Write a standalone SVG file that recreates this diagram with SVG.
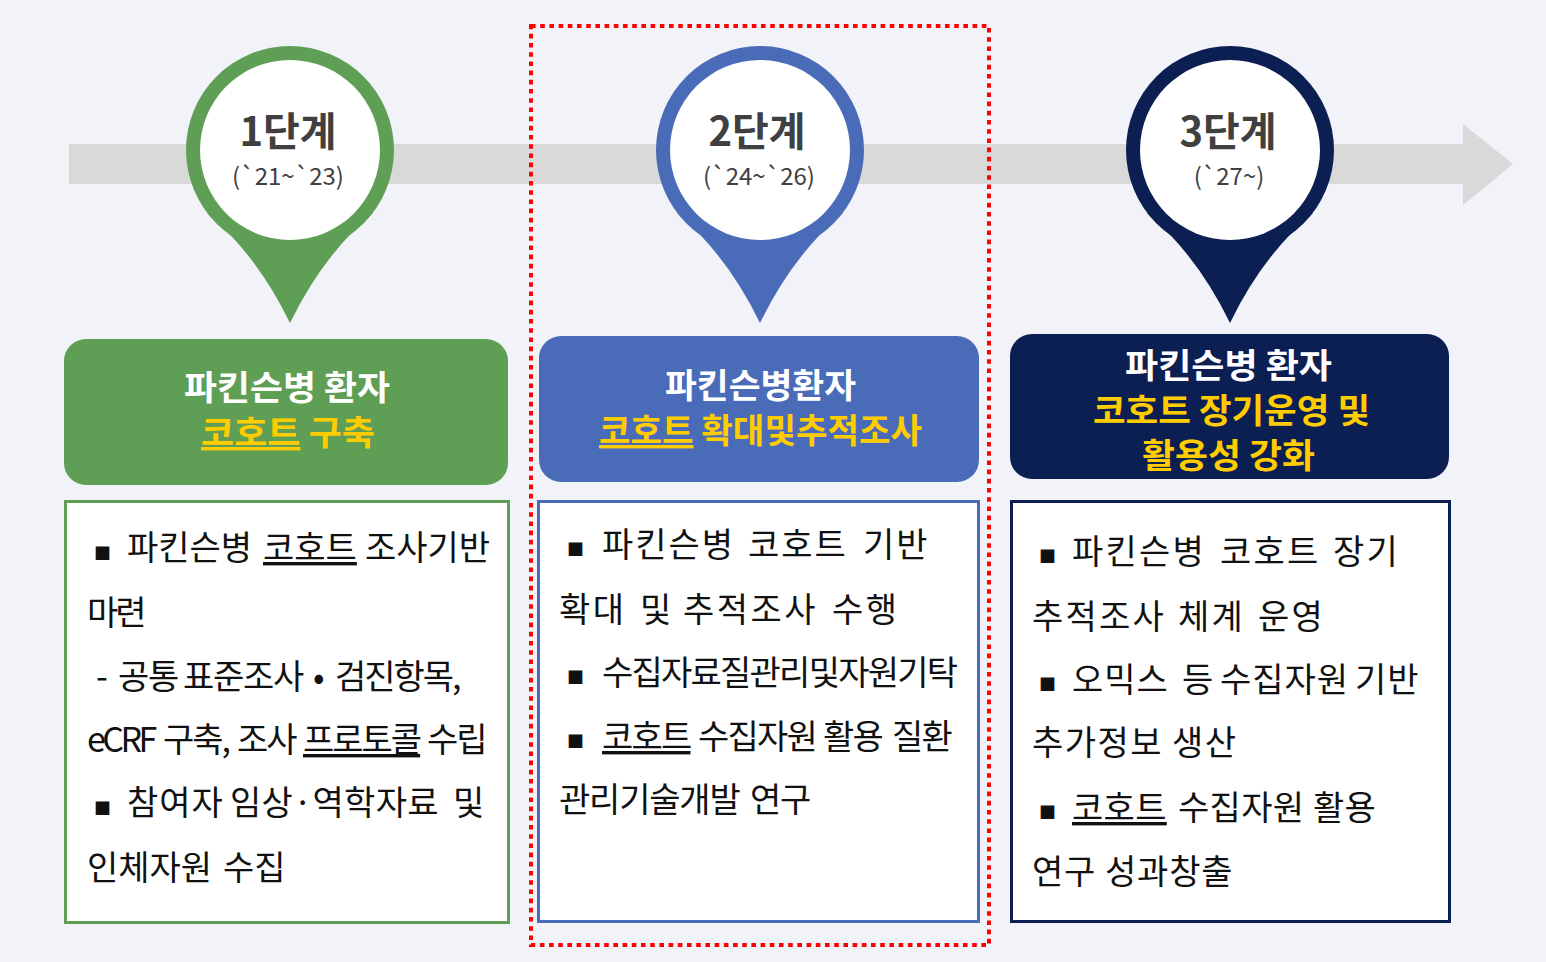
<svg xmlns="http://www.w3.org/2000/svg" width="1546" height="962" viewBox="0 0 1546 962">
<style>
.bg{fill:#f2f3f8}
.kr{font-family:"Noto Sans CJK KR","Noto Sans",sans-serif}
.pinT{font-weight:700;font-size:40px;fill:#404040;text-anchor:middle}
.pinD{font-weight:400;font-size:24px;fill:#404040;text-anchor:middle}
.hw{font-weight:700;font-size:34px;fill:#ffffff}
.hy{font-weight:700;font-size:34px;fill:#ffcc00}
.body{font-weight:400;font-size:34px;fill:#111111}
.bul{font-weight:400;font-size:17px;fill:#111111}
.u{text-decoration:underline}
.green{fill:#5f9e55}
.blue{fill:#4a6cb8}
.navy{fill:#0c1f52}
</style>
<rect class="bg" x="0" y="0" width="1546" height="962"/>

<g id="timeline-arrow">
<path d="M69,144 H1463 V124 L1513,164 L1463,205 V184 H69 Z" fill="#d9d9d9"/>
</g>

<g id="highlight-frame">
<rect x="531" y="26" width="458" height="919" fill="none" stroke="#ff0000" stroke-width="4" stroke-dasharray="4.6 4.6"/>
</g>

<g id="pin1">
<path class="green" d="M207,213 Q257,255 290,323 Q323,255 373,213 Z"/>
<circle class="green" cx="290" cy="150" r="104"/>
<circle cx="290" cy="150" r="90" fill="#ffffff"/>
<text class="kr pinT" x="288" y="146">1단계</text>
<text class="kr pinD" x="288" y="185">(`21~`23)</text>
</g>

<g id="pin2">
<path class="blue" d="M677,213 Q727,255 760,323 Q793,255 843,213 Z"/>
<circle class="blue" cx="760" cy="150" r="104"/>
<circle cx="760" cy="150" r="90" fill="#ffffff"/>
<text class="kr pinT" x="757" y="146">2단계</text>
<text class="kr pinD" x="759" y="185">(`24~`26)</text>
</g>

<g id="pin3">
<path class="navy" d="M1147,213 Q1197,255 1230,323 Q1263,255 1313,213 Z"/>
<circle class="navy" cx="1230" cy="150" r="104"/>
<circle cx="1230" cy="150" r="90" fill="#ffffff"/>
<text class="kr pinT" x="1228" y="146">3단계</text>
<text class="kr pinD" x="1229" y="185">(`27~)</text>
</g>

<g id="header1">
<rect class="green" x="64" y="339" width="444" height="146" rx="22"/>
<text class="kr hw" x="184" y="400" textLength="206" lengthAdjust="spacingAndGlyphs">파킨슨병 환자</text>
<text class="kr hy" x="201" y="445" textLength="174" lengthAdjust="spacingAndGlyphs"><tspan class="u">코호트</tspan> 구축</text>
</g>

<g id="header2">
<rect class="blue" x="539" y="336" width="440" height="146" rx="22"/>
<text class="kr hw" x="665" y="398" textLength="191" lengthAdjust="spacingAndGlyphs">파킨슨병환자</text>
<text class="kr hy" x="599" y="443" textLength="323" lengthAdjust="spacingAndGlyphs"><tspan class="u">코호트</tspan> 확대및추적조사</text>
</g>

<g id="header3">
<rect class="navy" x="1010" y="334" width="439" height="145" rx="22"/>
<text class="kr hw" x="1125" y="378" textLength="207" lengthAdjust="spacingAndGlyphs">파킨슨병 환자</text>
<text class="kr hy" x="1093" y="423" textLength="277" lengthAdjust="spacingAndGlyphs">코호트 장기운영 및</text>
<text class="kr hy" x="1142" y="468" textLength="173" lengthAdjust="spacingAndGlyphs">활용성 강화</text>
</g>

<g id="body1">
<rect x="65.5" y="501.5" width="443" height="421" fill="#ffffff" stroke="#5f9e55" stroke-width="3"/>
<text class="kr bul" x="94" y="560">■</text>
<text class="kr body" y="560" letter-spacing="0"><tspan x="127">파킨슨병</tspan> <tspan x="263" class="u">코호트</tspan> <tspan x="365">조사기반</tspan></text>
<text class="kr body" x="87" y="625" letter-spacing="-3">마련</text>
<text class="kr body" y="689" letter-spacing="-1.3"><tspan x="96">-</tspan> <tspan x="118">공통</tspan> <tspan x="183">표준조사</tspan> <tspan x="313">•</tspan> <tspan x="335" letter-spacing="-2">검진항목,</tspan></text>
<text class="kr body" y="752" letter-spacing="-2"><tspan x="87" letter-spacing="-3.5">eCRF</tspan> <tspan x="163">구축,</tspan> <tspan x="237">조사</tspan> <tspan x="303" class="u">프로토콜</tspan> <tspan x="427">수립</tspan></text>
<text class="kr bul" x="94" y="815">■</text>
<text class="kr body" y="815" letter-spacing="1"><tspan x="127">참여자</tspan> <tspan x="230" letter-spacing="0.3">임상·역학자료</tspan>  <tspan x="453">및</tspan></text>
<text class="kr body" y="880" letter-spacing="0"><tspan x="87">인체자원</tspan> <tspan x="223">수집</tspan></text>
</g>

<g id="body2">
<rect x="538.5" y="501.5" width="440" height="420" fill="#ffffff" stroke="#4a6cb8" stroke-width="3"/>
<text class="kr bul" x="567" y="556">■</text>
<text class="kr body" y="557" letter-spacing="2"><tspan x="602">파킨슨병</tspan> <tspan x="748">코호트</tspan> <tspan x="863">기반</tspan></text>
<text class="kr body" y="622" letter-spacing="2.5"><tspan x="559">확대</tspan> <tspan x="640">및</tspan> <tspan x="683">추적조사</tspan> <tspan x="832">수행</tspan></text>
<text class="kr bul" x="567" y="684">■</text>
<text class="kr body" x="602" y="685" textLength="356" lengthAdjust="spacing">수집자료질관리및자원기탁</text>
<text class="kr bul" x="567" y="748">■</text>
<text class="kr body" y="749" letter-spacing="-1.8"><tspan x="602" class="u">코호트</tspan> <tspan x="698">수집자원</tspan> <tspan x="823">활용</tspan> <tspan x="892">질환</tspan></text>
<text class="kr body" y="812" letter-spacing="-1.2"><tspan x="559">관리기술개발</tspan> <tspan x="750">연구</tspan></text>
</g>

<g id="body3">
<rect x="1011.5" y="501.5" width="438" height="420" fill="#ffffff" stroke="#0c1f52" stroke-width="3"/>
<text class="kr bul" x="1039" y="563">■</text>
<text class="kr body" y="564" letter-spacing="2.2"><tspan x="1072">파킨슨병</tspan> <tspan x="1220">코호트</tspan> <tspan x="1333">장기</tspan></text>
<text class="kr body" y="629" letter-spacing="2.2"><tspan x="1032">추적조사</tspan> <tspan x="1178">체계</tspan> <tspan x="1258">운영</tspan></text>
<text class="kr bul" x="1039" y="691">■</text>
<text class="kr body" y="692" letter-spacing="1"><tspan x="1072">오믹스</tspan> <tspan x="1182">등</tspan> <tspan x="1220">수집자원</tspan> <tspan x="1355">기반</tspan></text>
<text class="kr body" y="755" letter-spacing="1.5"><tspan x="1032">추가정보</tspan> <tspan x="1172">생산</tspan></text>
<text class="kr bul" x="1039" y="819">■</text>
<text class="kr body" y="820" letter-spacing="0.3"><tspan x="1072" class="u">코호트</tspan> <tspan x="1178">수집자원</tspan> <tspan x="1313">활용</tspan></text>
<text class="kr body" y="884" letter-spacing="0.8"><tspan x="1032">연구</tspan> <tspan x="1105">성과창출</tspan></text>
</g>
</svg>
